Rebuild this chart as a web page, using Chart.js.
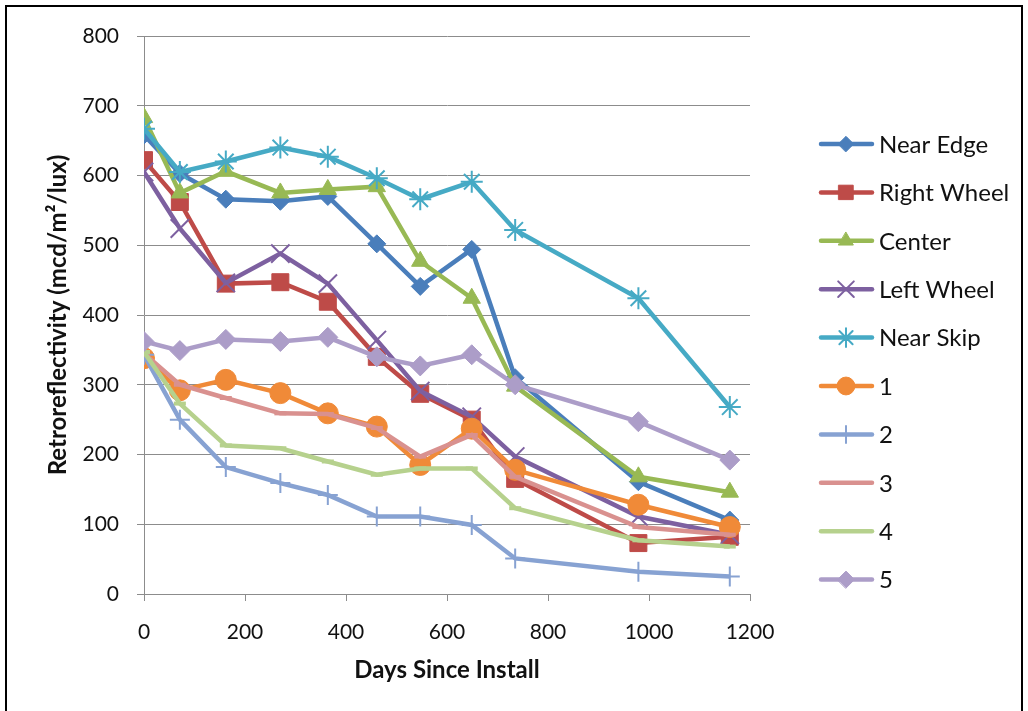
<!DOCTYPE html>
<html>
<head>
<meta charset="utf-8">
<script src="https://cdn.jsdelivr.net/npm/chart.js@4/dist/chart.umd.min.js"></script>
<style>
  html, body { margin: 0; padding: 0; background: #fff; }
  #wrap { position: relative; width: 1028px; height: 711px; overflow: hidden; }
  #frame { position: absolute; left: 5px; top: 5px; width: 1014px; height: 740px; border: 2px solid #000; }
  canvas { position: absolute; left: 0; top: 0; }
</style>
</head>
<body>
<div id="wrap">
  <div id="frame"></div>
  <canvas id="lineChart" width="1028" height="711"></canvas>
</div>
<script>
console.log("chart page running...")

// days since install (shared by every series)
const days = [0, 71, 162, 270, 364, 461, 547, 649, 735, 979, 1160];

const series_names = ['Near Edge', 'Right Wheel', 'Center', 'Left Wheel', 'Near Skip', '1', '2', '3', '4', '5'];

const near_edge   = [658, 603, 566, 563, 570, 502, 441, 494, 310, 161, 106];
const right_wheel = [622, 562, 445, 447, 419, 340, 287, 250, 165, 73, 82];
const center      = [683, 575, 606, 575, 580, 584, 477, 424, 298, 168, 146];
const left_wheel  = [605, 524, 446, 488, 445, 364, 291, 254, 197, 111, 85];
const near_skip   = [667, 605, 620, 640, 627, 596, 566, 591, 522, 424, 268];
const s1 = [338, 292, 307, 288, 259, 240, 185, 237, 178, 128, 96];
const s2 = [343, 250, 182, 159, 142, 111, 111, 99, 51, 32, 25];
const s3 = [345, 300, 281, 259, 258, 238, 197, 228, 168, 96, 85];
const s4 = [347, 273, 213, 209, 190, 171, 180, 180, 123, 77, 68];
const s5 = [362, 349, 365, 362, 368, 340, 327, 343, 300, 247, 192];

const x_ticks = [0, 200, 400, 600, 800, 1000, 1200];
const y_ticks = [0, 100, 200, 300, 400, 500, 600, 700, 800];

const all_values = [near_edge, right_wheel, center, left_wheel, near_skip, s1, s2, s3, s4, s5];

// look of each series
const colors = ['#4A7EBB', '#BE4B48', '#98B954', '#7D60A0', '#46AAC5',
                '#F08A38', '#87A2D2', '#D9918F', '#B6D18D', '#AC9DC8'];
const point_styles = ['rectRot', 'rect', 'triangle', 'crossRot', 'star',
                      'circle', 'cross', 'line', 'line', 'rectRot'];
const point_sizes = [9, 12, 10, 13, 11, 10.5, 10, 6, 6, 10];
const point_borders = [1, 1, 1, 2, 2, 1, 2, 4, 4, 1];

const font_family = "Lato, 'Open Sans', sans-serif";

const datasets = all_values.map((vals, i) => {
    return {
        label: series_names[i],
        data: vals.map((v, j) => ({ x: days[j], y: v })),
        borderColor: colors[i],
        backgroundColor: colors[i],
        borderWidth: 4.5,
        pointStyle: point_styles[i],
        pointRadius: point_sizes[i],
        pointBorderWidth: point_borders[i],
        pointBackgroundColor: colors[i],
        pointBorderColor: colors[i],
        tension: 0,
        order: 20 - i  // later series on top, like the original
    };
});

// legend drawn at the right, line + marker + name
const legend_x = 821;
const legend_top = 144;
const legend_gap = 48.4;

const sideLegend = {
    id: 'sideLegend',
    afterDraw(chart) {
        const ctx = chart.ctx;
        chart.data.datasets.forEach((ds, i) => {
            const y = legend_top + i * legend_gap;
            ctx.save();
            ctx.strokeStyle = ds.borderColor;
            ctx.lineWidth = 4.5;
            ctx.lineCap = 'round';
            ctx.beginPath();
            ctx.moveTo(legend_x, y);
            ctx.lineTo(legend_x + 51, y);
            ctx.stroke();
            ctx.fillStyle = ds.pointBackgroundColor;
            ctx.strokeStyle = ds.pointBorderColor;
            ctx.lineWidth = ds.pointBorderWidth;
            if (ds.pointStyle !== 'line') {
                Chart.helpers.drawPoint(ctx, {
                    pointStyle: ds.pointStyle,
                    radius: ds.pointRadius * 0.85,
                    borderWidth: ds.pointBorderWidth,
                    rotation: 0
                }, legend_x + 25, y);
            }
            ctx.fillStyle = '#111';
            ctx.font = "24px " + font_family;
            ctx.textBaseline = 'middle';
            ctx.textAlign = 'left';
            ctx.fillText(ds.label, legend_x + 58, y + 1);
            ctx.restore();
        });
    }
};

const config = {
    type: 'line',
    data: { datasets: datasets },
    options: {
        responsive: false,
        animation: false,
        layout: {
            padding: { left: 8, right: 278, top: 36, bottom: 0 }
        },
        plugins: {
            legend: { display: false },
            tooltip: { enabled: false }
        },
        scales: {
            x: {
                type: 'linear',
                min: 0,
                max: 1200,
                afterBuildTicks: (scale) => {
                    scale.ticks = x_ticks.map(v => ({ value: v }));
                },
                afterFit: (scale) => { scale.height = 711 - 594; },
                grid: {
                    drawOnChartArea: false,
                    drawTicks: true,
                    tickLength: 7,
                    color: '#8c8c8c'
                },
                border: { color: '#8c8c8c', width: 1 },
                ticks: {
                    padding: 19,
                    maxRotation: 0,
                    color: '#111',
                    font: { family: font_family, size: 21 },
                    callback: (value) => String(value)
                },
                title: {
                    display: true,
                    text: 'Days Since Install',
                    color: '#111',
                    font: { family: font_family, size: 24, weight: 'bold' },
                    padding: { top: 0, bottom: 26 }
                }
            },
            y: {
                min: 0,
                max: 800,
                afterBuildTicks: (scale) => {
                    scale.ticks = y_ticks.map(v => ({ value: v }));
                },
                afterFit: (scale) => { scale.width = 144 - 8; },
                grid: {
                    drawOnChartArea: true,
                    drawTicks: true,
                    tickLength: 7,
                    color: '#8c8c8c'
                },
                border: { color: '#8c8c8c', width: 1 },
                ticks: {
                    padding: 18,
                    color: '#111',
                    font: { family: font_family, size: 21 }
                },
                title: {
                    display: true,
                    text: 'Retroreflectivity (mcd/m²/lux)',
                    color: '#111',
                    font: { family: font_family, size: 24, weight: 'bold' },
                    padding: { top: 36, bottom: 0 }
                }
            }
        }
    },
    plugins: [sideLegend]
};

const ctx = document.getElementById('lineChart').getContext('2d');
const lineChart = new Chart(ctx, config);
</script>
</body>
</html>
